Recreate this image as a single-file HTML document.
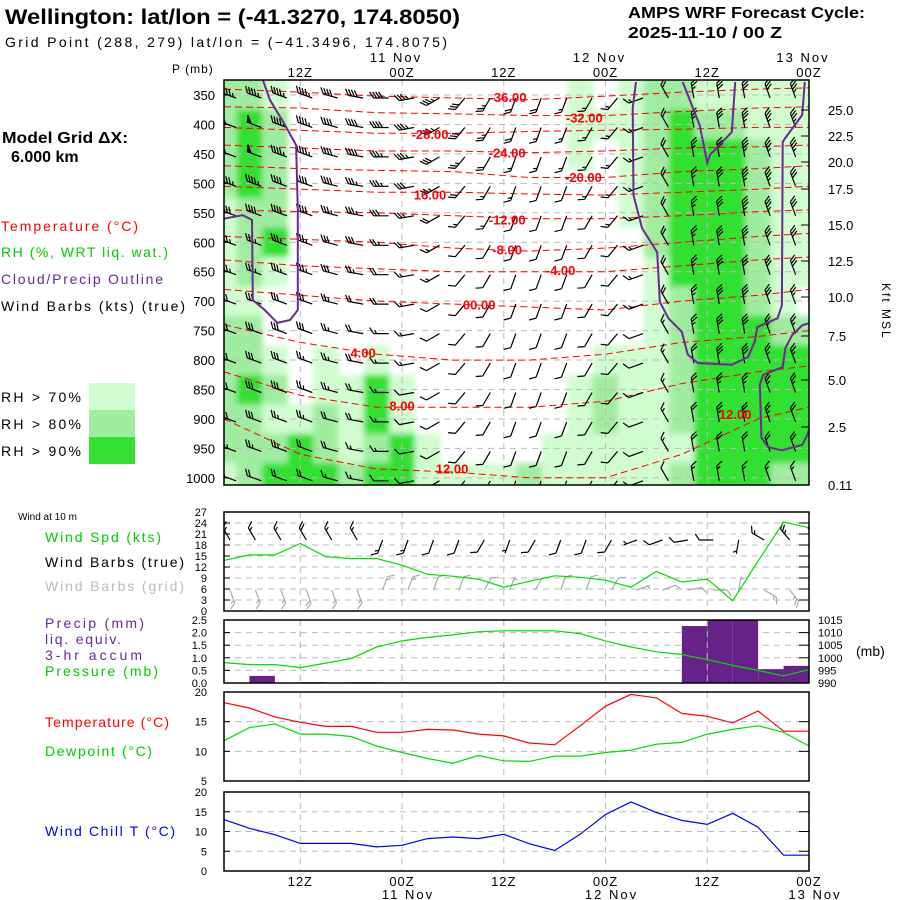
<!DOCTYPE html>
<html><head><meta charset="utf-8"><style>
html,body{margin:0;padding:0;background:#fff;}
svg{display:block;font-family:"Liberation Sans",sans-serif;}
</style></head><body>
<svg id="chart" width="900" height="900" viewBox="0 0 900 900" xmlns="http://www.w3.org/2000/svg">
<defs>
<clipPath id="clipMain"><rect x="224" y="80" width="585" height="405"/></clipPath>
<clipPath id="clipWind"><rect x="224" y="512" width="585" height="99"/></clipPath>
<filter id="soft" x="-5%" y="-5%" width="110%" height="110%"><feGaussianBlur stdDeviation="3"/></filter>
</defs>
<rect width="900" height="900" fill="#fff"/>
<g>
<text x="5" y="24" font-size="21" font-weight="bold" textLength="455" lengthAdjust="spacingAndGlyphs">Wellington:  lat/lon = (-41.3270, 174.8050)</text>
<text x="5" y="47" font-size="14" textLength="442" lengthAdjust="spacing">Grid Point (288, 279) lat/lon = (−41.3496, 174.8075)</text>
<text x="628" y="18" font-size="16" font-weight="bold" textLength="237" lengthAdjust="spacingAndGlyphs">AMPS WRF Forecast Cycle:</text>
<text x="628" y="38" font-size="16" font-weight="bold" textLength="154" lengthAdjust="spacingAndGlyphs">2025-11-10 / 00  Z</text>
<text x="2" y="143" font-size="16" font-weight="bold" textLength="126" lengthAdjust="spacingAndGlyphs">Model Grid ΔX:</text>
<text x="11" y="162" font-size="16" font-weight="bold">6.000 km</text>
</g>
<g font-size="14">
<text x="1" y="231" fill="#ff0000" textLength="137" lengthAdjust="spacing">Temperature (°C)</text>
<text x="1" y="257" fill="#00cc00" textLength="167" lengthAdjust="spacing">RH (%, WRT liq. wat.)</text>
<text x="1" y="284" fill="#6a2a90" textLength="162" lengthAdjust="spacing">Cloud/Precip Outline</text>
<text x="1" y="311" fill="#000" textLength="184" lengthAdjust="spacing">Wind Barbs (kts) (true)</text>
<text x="1" y="402" textLength="80" lengthAdjust="spacing">RH &gt; 70%</text>
<text x="1" y="429" textLength="80" lengthAdjust="spacing">RH &gt; 80%</text>
<text x="1" y="456" textLength="80" lengthAdjust="spacing">RH &gt; 90%</text>
<rect x="89" y="383" width="46" height="27" fill="#d0fcd0"/>
<rect x="89" y="410" width="46" height="27" fill="#a0eca0"/>
<rect x="89" y="437" width="46" height="27" fill="#33e033"/>
</g>
<g font-size="14">
<text x="18" y="520" font-size="10">Wind at 10 m</text>
<text x="45" y="542" fill="#00cc00" textLength="116" lengthAdjust="spacing">Wind Spd (kts)</text>
<text x="45" y="567" textLength="139" lengthAdjust="spacing">Wind Barbs (true)</text>
<text x="45" y="591" fill="#bbbbbb" textLength="139" lengthAdjust="spacing">Wind Barbs (grid)</text>
<text x="45" y="628" fill="#6a2a90" textLength="99" lengthAdjust="spacing">Precip (mm)</text>
<text x="45" y="644" fill="#6a2a90" textLength="76" lengthAdjust="spacing">liq. equiv.</text>
<text x="45" y="660" fill="#6a2a90" textLength="97" lengthAdjust="spacing">3-hr accum</text>
<text x="45" y="676" fill="#00cc00" textLength="113" lengthAdjust="spacing">Pressure (mb)</text>
<text x="45" y="727" fill="#ff0000" textLength="124" lengthAdjust="spacing">Temperature (°C)</text>
<text x="45" y="756" fill="#00cc00" textLength="107" lengthAdjust="spacing">Dewpoint (°C)</text>
<text x="45" y="836" fill="#0000ff" textLength="130" lengthAdjust="spacing">Wind Chill T (°C)</text>
</g>
<g id="plot"></g>
</svg>
<script>
// ---------- data ----------
const hours = [0,3,6,9,12,15,18,21,24,27,30,33,36,39,42,45,48,51,54,57,60,63,66,69];
const levels = [350,400,450,500,550,600,650,700,750,800,850,900,950,1000];
const rhRows = [
 [85,85,75,50,50,50,50,50,50,50,50,50,50,50,75,50,75,85,85,75,75,75,75,75],
 [85,95,85,50,50,50,50,50,50,50,50,50,50,50,75,75,75,85,95,85,85,75,75,75],
 [85,95,85,50,50,50,50,50,50,50,50,50,50,50,75,50,75,85,95,95,95,85,75,75],
 [85,95,85,50,50,50,50,50,50,50,50,50,50,50,50,50,75,85,95,95,95,85,75,75],
 [75,85,85,50,50,50,50,50,50,50,50,50,50,50,50,50,75,85,95,95,95,85,75,75],
 [75,85,95,50,50,50,50,50,50,50,50,50,50,50,50,50,50,85,95,95,95,85,75,75],
 [75,85,75,50,50,50,50,50,50,50,50,50,50,50,50,50,50,75,95,95,95,85,75,75],
 [75,75,50,50,50,50,50,50,50,50,50,50,50,50,50,50,50,75,85,95,95,85,75,50],
 [85,85,50,50,50,50,50,50,50,50,50,50,50,50,50,50,50,75,85,95,95,95,85,85],
 [85,85,75,50,75,50,75,50,50,50,50,50,50,50,50,75,75,75,85,95,95,95,95,95],
 [85,95,85,50,75,75,95,75,50,50,50,50,50,50,75,85,75,75,85,95,95,95,95,95],
 [85,85,75,75,85,75,95,75,50,50,50,50,50,50,75,85,75,75,85,95,95,95,95,95],
 [85,85,85,95,85,75,85,95,75,50,50,50,50,75,75,75,75,75,75,95,95,95,95,95],
 [75,85,95,95,95,85,95,95,75,75,75,75,85,75,75,75,75,75,85,95,95,95,85,85]
];
const windSpd = [
 [45,45,45,45,40,40,40,35,35,30,25,20,20,15,15,15,15,20,25,30,30,30,35,35],
 [50,50,45,45,40,40,40,35,35,30,25,20,15,15,15,15,15,20,25,30,35,35,35,35],
 [50,50,45,45,40,40,35,35,30,25,20,15,15,15,15,15,15,20,25,30,35,35,35,35],
 [45,45,40,40,40,35,35,30,25,20,15,15,10,10,15,15,15,20,25,30,35,35,30,30],
 [40,40,40,40,35,35,30,25,20,15,15,10,10,10,10,15,15,20,25,30,35,35,30,30],
 [35,35,35,35,30,30,25,20,15,10,10,10,10,10,10,10,15,20,25,30,30,30,30,25],
 [35,35,35,35,30,25,20,15,15,10,10,10,10,10,10,10,15,20,25,30,30,30,30,25],
 [30,30,30,30,25,20,20,15,10,10,10,10,10,10,10,10,15,20,25,30,30,30,25,25],
 [30,30,30,30,25,20,15,15,10,10,10,10,10,10,10,10,10,15,25,30,30,25,25,25],
 [30,30,30,25,25,20,15,15,10,10,10,10,10,10,10,10,10,15,20,30,30,25,25,25],
 [30,30,30,25,25,20,15,10,10,10,10,10,10,10,10,10,10,15,20,25,25,25,25,20],
 [30,30,25,25,20,20,15,10,10,10,10,10,10,10,10,10,10,15,20,25,25,25,20,20],
 [25,25,25,20,20,15,15,10,10,10,10,10,10,10,10,10,10,15,20,20,20,20,20,20],
 [20,20,20,20,15,15,10,10,10,10,10,5,5,5,10,10,10,10,15,15,15,15,15,15]
];
const windDirCol = [290,290,290,290,285,280,270,260,240,220,210,200,200,200,210,220,250,330,350,350,350,340,340,330];
const isoTemps = [-36,-32,-28,-24,-20,-16,-12,-8,-4,0,4,8,12];
const isoHours = [0,9,18,27,36,45,54,63,69];
const isoP = [
 [340,345,352,355,358,352,345,340,338],
 [370,372,380,382,385,385,378,372,370],
 [405,410,415,415,412,410,408,405,405],
 [435,440,445,445,448,445,440,438,435],
 [470,475,478,480,490,490,480,475,470],
 [505,510,515,515,518,520,515,510,505],
 [545,548,550,555,560,560,555,548,545],
 [590,595,600,610,615,610,600,590,585],
 [630,640,645,650,650,650,640,630,625],
 [680,690,700,705,710,715,700,690,680],
 [740,770,790,800,800,790,770,760,750],
 [820,860,880,880,880,870,840,820,810],
 [900,960,985,990,1000,1000,960,900,880]
];
const isoLabels = [["-36.00",33.5,353],["-32.00",42.5,388],["-28.00",24.3,416],["-24.00",33.4,448],["-20.00",42.4,489],["16.00",24.3,519],["-12.00",33.4,561],["-8.00",33.4,612],["-4.00",39.7,647],["00.00",30.1,706],["4.00",16.4,787],["8.00",21.0,877],["12.00",26.9,984],["12.00",60.3,892]];
const cloudA = [[4.6,325],[5.4,358],[7.2,401],[8.5,435],[8.7,545],[8.7,715],[7.8,732],[6.3,737],[4.8,715],[3.4,698],[3.3,562],[2.2,554],[0,560]];
const cloudB = [[48.6,328],[48.2,372],[48.3,520],[49.3,576],[51.1,617],[51.4,701],[52.4,729],[54.0,752],[54.7,791],[55.9,805],[59.9,808],[61.8,795],[62.6,769],[62.9,744],[65.3,729],[65.8,707],[65.9,430],[66.2,423],[68.2,384],[68.5,328]];
const cloudNotch = [[54.1,328],[56.1,401],[57.0,465],[57.3,452],[59.9,413],[60.3,328]];
const cloudC = [[69.1,737],[68.2,741],[67.0,758],[66.2,780],[65.9,812],[63.6,825],[63.2,842],[63.4,932],[64.2,948],[65.8,953],[68.2,944],[68.8,927],[69.1,914]];
const wind10 = [13.8,15.3,15.3,18.4,14.8,14.3,14.3,12.5,10.0,9.5,8.7,6.5,8.1,9.6,9.2,8.4,6.5,10.8,7.9,8.7,2.8,13.6,24.3,22.7];
const dir10 = [330,330,330,330,330,330,200,200,200,200,210,200,210,200,200,210,250,250,260,270,190,300,320,330];
const gridDir10 = [160,160,160,160,160,160,20,20,20,20,30,20,30,20,20,30,70,70,80,90,10,120,140,150];
const precip = [0,0,0.28,0,0.03,0,0.03,0,0,0,0,0,0,0,0,0,0,0,0,2.26,2.5,2.5,0.55,0.68];
const pressure = [998.1,997.3,997.3,996.1,997.9,999.7,1004.3,1006.7,1008.1,1009.1,1010.3,1010.7,1010.7,1010.7,1009.6,1006.7,1004.3,1002.4,1001.3,999.3,997.0,995.0,992.8,995.3];
const temp2m = [18.2,17.3,15.8,14.9,14.2,14.2,13.2,13.2,13.7,13.6,12.9,12.6,11.4,11.1,14.3,17.6,19.6,19.0,16.4,15.9,14.8,16.8,13.4,13.4];
const dew2m = [11.8,14.0,14.6,12.9,12.9,12.5,10.9,9.8,8.8,8.0,9.3,8.4,8.3,9.2,9.2,9.8,10.2,11.2,11.5,12.9,13.7,14.3,13.2,10.9];
const windChill = [13.0,10.8,9.2,7.0,7.0,7.0,6.1,6.5,8.2,8.6,8.2,9.3,6.9,5.2,9.3,14.3,17.5,14.8,12.8,11.8,14.6,11.1,4.0,4.0];
const pTicks = [350,400,450,500,550,600,650,700,750,800,850,900,950,1000];
const kftTicks = [["25.0",110],["22.5",136],["20.0",162],["17.5",189],["15.0",225],["12.5",261],["10.0",297],["7.5",336],["5.0",380],["2.5",427],["0.11",485]];
const timeTicks = [[9,"12Z",""],[21,"00Z","11 Nov"],[33,"12Z",""],[45,"00Z","12 Nov"],[57,"12Z",""],[69,"00Z","13 Nov"]];
const windTicks = [0,3,6,9,12,15,18,21,24,27];
const precipTicks = ["0.0","0.5","1.0","1.5","2.0","2.5"];
const presTicks = [990,995,1000,1005,1010,1015];
const tempTicks = [5,10,15,20];
const chillTicks = [0,5,10,15,20];

// ---------- axes ----------
const X0=224, X1=809, H=69;
const xh = h => X0 + h*(X1-X0)/H;
const yp = p => 95 + (p-350)*0.589;
const yW = v => 611 - v*99/27;
const yPr = v => 683 - v*63/2.5;
const yPs = p => 683 - (p-990)*63/25;
const yT = t => 781 - (t-5)*89/15;
const yC = t => 871 - t*79/20;

const NS='http://www.w3.org/2000/svg';
const plot=document.getElementById('plot');
function mk(tag, attrs, parent){const e=document.createElementNS(NS,tag);for(const k in attrs)e.setAttribute(k,attrs[k]);(parent||plot).appendChild(e);return e;}
function grp(name,parent){const g=mk('g',{},parent);


return g;}
function txt(s,x,y,attrs,parent,name){const t=mk('text',Object.assign({x:x,y:y,'font-size':13},attrs),parent);t.textContent=s;


return t;}

// ---------- main panel ----------
const gMain=grp('main-panel');
const gRH=grp('rh-shading',gMain);
gRH.setAttribute('clip-path','url(#clipMain)');
const gRHin=mk('g',{filter:'url(#soft)'},gRH);
const col=v=> v>90?'#33e033':v>80?'#a0eca0':v>70?'#d0fcd0':null;
for(let j=0;j<levels.length;j++){
  const yt = j===0? 70 : (yp(levels[j-1])+yp(levels[j]))/2;
  const yb = j===levels.length-1? 495 : (yp(levels[j])+yp(levels[j+1]))/2;
  for(let i=0;i<hours.length;i++){
    const c=col(rhRows[j][i]); if(!c) continue;
    const xl = i===0? 214 : (xh(hours[i-1])+xh(hours[i]))/2;
    const xr = i===hours.length-1? 820 : (xh(hours[i])+xh(hours[i+1]))/2;
    const r=mk('rect',{x:xl,y:yt,width:xr-xl+0.5,height:yb-yt+0.5,fill:c},gRHin);
    
    
  }
}
// grid
const gGrid=grp('main-gridlines',gMain);
pTicks.forEach(p=>mk('line',{x1:X0,x2:X1,y1:yp(p),y2:yp(p),stroke:'#bbb','stroke-dasharray':'6,5','stroke-width':1},gGrid));
timeTicks.forEach(t=>mk('line',{x1:xh(t[0]),x2:xh(t[0]),y1:80,y2:485,stroke:'#bbb','stroke-dasharray':'6,5'},gGrid));
// isotherms
const gIso=grp('isotherms',gMain);
gIso.setAttribute('clip-path','url(#clipMain)');
isoP.forEach((row,k)=>{
  const pts=row.map((p,i)=>xh(isoHours[i]).toFixed(1)+','+yp(p).toFixed(1)).join(' ');
  const l=mk('polyline',{points:pts,fill:'none',stroke:'#ff0000','stroke-width':1,'stroke-dasharray':'7,4'},gIso);
  
  
});
// wind barbs
function barb(g,x,y,dir,spd,color,L){
  const r=dir*Math.PI/180, dx=Math.sin(r), dy=-Math.cos(r);
  const ex=x+dx*L, ey=y+dy*L;
  let d='M'+x.toFixed(1)+' '+y.toFixed(1)+'L'+ex.toFixed(1)+' '+ey.toFixed(1);
  const px=-dy, py=dx; // perpendicular
  let s=Math.round(spd/5)*5, pos=0;
  while(s>=50){const bx=ex-dx*pos,by=ey-dy*pos;d+='M'+bx.toFixed(1)+' '+by.toFixed(1)+'L'+(bx+px*7+dx*2).toFixed(1)+' '+(by+py*7+dy*2).toFixed(1)+'L'+(bx-dx*4).toFixed(1)+' '+(by-dy*4).toFixed(1)+'Z';pos+=5;s-=50;}
  while(s>=10){const bx=ex-dx*pos,by=ey-dy*pos;d+='M'+bx.toFixed(1)+' '+by.toFixed(1)+'L'+(bx+px*6+dx*4).toFixed(1)+' '+(by+py*6+dy*4).toFixed(1);pos+=3;s-=10;}
  if(s>=5){if(pos===0)pos=3;const bx=ex-dx*pos,by=ey-dy*pos;d+='M'+bx.toFixed(1)+' '+by.toFixed(1)+'L'+(bx+px*3.5+dx*2).toFixed(1)+' '+(by+py*3.5+dy*2).toFixed(1);}
  const e=mk('path',{d:d,stroke:color,fill:color,'stroke-width':1.2},g);
  
  
}
const gBarb=grp('wind-barbs',gMain);
gBarb.setAttribute('clip-path','url(#clipMain)');
for(let j=0;j<levels.length;j++)for(let i=0;i<hours.length;i++){
  const x=xh(hours[i])+12;
  if(x>X1-2) continue;
  barb(gBarb,x,yp(levels[j])+3,windDirCol[i],windSpd[j][i],'#000',15);
}
// cloud outlines
const gCloud=grp('cloud-outlines',gMain);
gCloud.setAttribute('clip-path','url(#clipMain)');
[cloudA,cloudB,cloudNotch,cloudC].forEach(arr=>{
  const l=mk('polyline',{points:arr.map(p=>xh(p[0]).toFixed(1)+','+yp(p[1]).toFixed(1)).join(' '),fill:'none',stroke:'#6a2a90','stroke-width':2},gCloud);
  
  
});
// isotherm labels
isoLabels.forEach(a=>txt(a[0],xh(a[1]),yp(a[2])+5,{'font-size':13,'font-weight':'bold',fill:'#ff0000','text-anchor':'middle'},gMain,'isotherm-label'));
mk('rect',{x:X0,y:80,width:X1-X0,height:405,fill:'none',stroke:'#000','stroke-width':1.5},gMain);
// axes labels
const gAx=grp('main-axes',gMain);
txt('P (mb)',172,73,{'font-size':12,'letter-spacing':'1'},gAx,'pressure-axis-title');
pTicks.forEach(p=>{txt(String(p),215,yp(p)+5,{'font-size':13,'text-anchor':'end'},gAx,'pressure-tick-label');
  mk('line',{x1:X0,x2:X0+5,y1:yp(p),y2:yp(p),stroke:'#000'},gAx);});
kftTicks.forEach(k=>{txt(k[0],828,k[1]+5,{'font-size':13},gAx,'height-tick-label');
  mk('line',{x1:X1-8,x2:X1,y1:k[1],y2:k[1],stroke:'#000'},gAx);});
txt('Kft MSL',882,283,{'font-size':12,transform:'rotate(90 882 283)','letter-spacing':'2'},gAx,'height-axis-title');
timeTicks.forEach(t=>{txt(t[1],xh(t[0]),77,{'font-size':13,'text-anchor':'middle','letter-spacing':'1'},gAx,'top-time-label');
  if(t[2]) txt(t[2],xh(t[0])-6,62,{'font-size':13,'text-anchor':'middle','letter-spacing':'2'},gAx,'top-date-label');});

// ---------- lower panels ----------
function panel(name,top,bot,gridVals,yf){
  const g=grp(name);
  gridVals.forEach(v=>{mk('line',{x1:X0,x2:X1,y1:yf(v),y2:yf(v),stroke:'#bbb','stroke-dasharray':'6,5'},g);
    mk('line',{x1:X1-10,x2:X1,y1:yf(v),y2:yf(v),stroke:'#000'},g);
    mk('line',{x1:X0,x2:X0+6,y1:yf(v),y2:yf(v),stroke:'#000'},g);});
  timeTicks.forEach(t=>mk('line',{x1:xh(t[0]),x2:xh(t[0]),y1:top,y2:bot,stroke:'#bbb','stroke-dasharray':'6,5'},g));
  return g;
}
function frame(g,top,bot){mk('rect',{x:X0,y:top,width:X1-X0,height:bot-top,fill:'none',stroke:'#000','stroke-width':1.5},g);}
function line(g,arr,yf,color,name){
  const l=mk('polyline',{points:arr.map((v,i)=>xh(hours[i]).toFixed(1)+','+yf(v).toFixed(1)).join(' '),fill:'none',stroke:color,'stroke-width':1.2},g);
  
  
}
// wind panel
const gW=panel('wind-panel',512,611,[3,6,9,12,15,18,21,24],yW);
windTicks.forEach(v=>txt(String(v),207,yW(v)+4,{'font-size':11,'text-anchor':'end'},gW,'wind-tick-label'));
const gW10=grp('wind-10m-barbs',gW);
gW10.setAttribute('clip-path','url(#clipWind)');
hours.forEach((h,i)=>{const x=xh(h)+6;barb(gW10,x,590,gridDir10[i],wind10[i],'#aaaaaa',14);});
hours.forEach((h,i)=>{const x=xh(h)+6;barb(gW10,x,540,dir10[i],wind10[i],'#000',14);});
line(gW,wind10,yW,'#00dd00','wind-speed-line');
frame(gW,512,611);
// precip/pressure
const gP=panel('precip-panel',620,683,[0.5,1,1.5,2],yPr);
precip.forEach((v,i)=>{if(v<=0||i===0)return;
  const r=mk('rect',{x:xh(hours[i-1]),y:yPr(v),width:xh(hours[i])-xh(hours[i-1]),height:683-yPr(v),fill:'#662288'},gP);
  
  
});
timeTicks.forEach(t=>mk('line',{x1:xh(t[0]),x2:xh(t[0]),y1:620,y2:683,stroke:'#bbb','stroke-dasharray':'6,5'},gP));
line(gP,pressure,yPs,'#00dd00','pressure-line');
precipTicks.forEach((s,i)=>txt(s,207,yPr(i*0.5)+4,{'font-size':11,'text-anchor':'end'},gP,'precip-tick-label'));
presTicks.forEach(p=>txt(String(p),818,yPs(p)+4,{'font-size':11},gP,'pressure-tick-label'));
txt('(mb)',856,656,{'font-size':14},gP,'pressure-unit-label');
frame(gP,620,683);
// temperature
const gT=panel('temperature-panel',692,781,[10,15],yT);
tempTicks.forEach(v=>txt(String(v),207,yT(v)+4,{'font-size':11,'text-anchor':'end'},gT,'temp-tick-label'));
line(gT,temp2m,yT,'#ff0000','temperature-line');
line(gT,dew2m,yT,'#00dd00','dewpoint-line');
frame(gT,692,781);
// wind chill
const gC=panel('wind-chill-panel',792,871,[5,10,15],yC);
chillTicks.forEach(v=>txt(String(v),207,yC(v)+4,{'font-size':11,'text-anchor':'end'},gC,'chill-tick-label'));
line(gC,windChill,yC,'#0000ff','wind-chill-line');
frame(gC,792,871);
const gB=grp('bottom-time-axis');
timeTicks.forEach(t=>{txt(t[1],xh(t[0]),886,{'font-size':13,'text-anchor':'middle','letter-spacing':'1'},gB,'bottom-time-label');
  if(t[2]) txt(t[2],xh(t[0])+6,899,{'font-size':13,'text-anchor':'middle','letter-spacing':'2'},gB,'bottom-date-label');});
</script>
</body></html>
